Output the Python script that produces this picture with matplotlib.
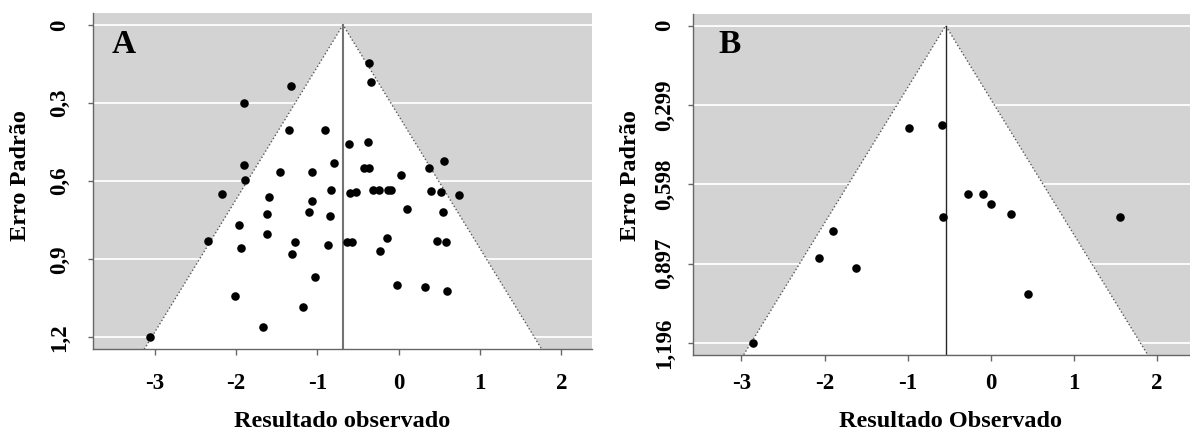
import matplotlib
matplotlib.use('Agg')
import matplotlib.pyplot as plt
from matplotlib.patches import Polygon

# Panel A: observed effects and their standard errors
eff_a = [-1.327, -1.904, -1.344, -0.909, -0.611, -1.904, -0.795, -1.454, -1.069, -1.892,
         -2.175, -1.590, -0.832, -1.069, -1.618, -1.098, -0.848, -1.962, -1.618, -2.347,
         -1.941, -1.270, -1.307, -0.865, -1.032, -2.015, -1.179, -1.667, -3.055, -0.365,
         -0.340, -0.381, -0.422, -0.365, 0.032, 0.376, 0.560, -0.602, -0.528, -0.316,
         -0.242, -0.131, -0.098, 0.397, 0.520, 0.737, 0.102, 0.548, -0.631, -0.574,
         -0.144, -0.226, 0.474, 0.577, -0.017, 0.319, 0.597]
se_a = [0.234, 0.301, 0.403, 0.405, 0.457, 0.538, 0.532, 0.565, 0.564, 0.597,
        0.648, 0.660, 0.635, 0.676, 0.727, 0.719, 0.734, 0.768, 0.802, 0.830,
        0.858, 0.835, 0.879, 0.844, 0.968, 1.041, 1.082, 1.159, 1.199, 0.147,
        0.219, 0.451, 0.551, 0.551, 0.576, 0.551, 0.524, 0.644, 0.642, 0.635,
        0.635, 0.633, 0.633, 0.638, 0.643, 0.652, 0.707, 0.720, 0.835, 0.833,
        0.817, 0.868, 0.829, 0.833, 1.000, 1.005, 1.022]
est_a = -0.684

# Panel B
eff_b = [-0.980, -0.582, -1.894, -2.063, -1.621, -2.857, -0.269, -0.093, 0.000,
         0.248, -0.570, 1.560, 0.452]
se_b = [0.387, 0.374, 0.773, 0.876, 0.912, 1.196, 0.636, 0.633, 0.671,
        0.709, 0.721, 0.722, 1.012]
est_b = -0.542

xticks = [-3, -2, -1, 0, 1, 2]
yticks_a = [0, 0.3, 0.6, 0.9, 1.2]
ylabels_a = ['0', '0,3', '0,6', '0,9', '1,2']
yticks_b = [0, 0.299, 0.598, 0.897, 1.196]
ylabels_b = ['0', '0,299', '0,598', '0,897', '1,196']

plt.rcParams['font.family'] = ['Liberation Serif', 'DejaVu Serif']
plt.rcParams['font.weight'] = 'bold'

fig = plt.figure(figsize=(11.9, 4.32), dpi=100)


def funnel(ax, eff, se, est, yt, yl, xlim, ylim, ref_color, ref_lw, xpad, ypad):
    ax.set_facecolor('#d3d3d3')
    ax.set_xlim(xlim)
    ax.set_ylim(ylim)
    se_max = ylim[0]
    for y in yt:
        ax.axhline(y, color='white', lw=1.3, zorder=0.5)
    lo, hi = est - 1.96 * se_max, est + 1.96 * se_max
    ax.add_patch(Polygon([(est, 0), (lo, se_max), (hi, se_max)], closed=True,
                         facecolor='white', edgecolor='none', zorder=1))
    ax.plot([lo, est, hi], [se_max, 0, se_max], ls=':', color='0.35', lw=1, zorder=2)
    ax.plot([est, est], [0, se_max], color=ref_color, lw=ref_lw, zorder=2)
    ax.scatter(eff, se, s=38, color='black', linewidths=0, zorder=3)
    for side in ['top', 'right']:
        ax.spines[side].set_visible(False)
    for side in ['left', 'bottom']:
        ax.spines[side].set_color('0.4')
        ax.spines[side].set_linewidth(1)
    ax.set_xticks(xticks, [str(t) for t in xticks])
    ax.set_yticks(yt, yl, rotation=90, va='center')
    ax.tick_params(axis='x', length=4.3, width=1, color='0.4', pad=xpad, labelsize=16.5)
    ax.tick_params(axis='y', length=3.6, width=1, color='0.4', pad=ypad, labelsize=16.5)


ax_a = fig.add_axes([0.0784, 0.1914, 0.4188, 0.7792])
funnel(ax_a, eff_a, se_a, est_a, yticks_a, ylabels_a, (-3.752, 2.371), (1.246, -0.047),
       '0.45', 1.5, 12.8, 12.8)

ax_b = fig.add_axes([0.5826, 0.1789, 0.4174, 0.7887])
funnel(ax_b, eff_b, se_b, est_b, yticks_b, ylabels_b, (-3.579, 2.398), (1.240, -0.044),
       '0.15', 1.0, 8.8, 9.2)

# axis titles and panel letters
fig.text(342.5 / 1190, 1 - 426.7 / 432, 'Resultado observado', ha='center', va='baseline',
         fontsize=17.5)
fig.text(950 / 1190, 1 - 426.7 / 432, 'Resultado Observado', ha='center', va='baseline',
         fontsize=17.5)
fig.text(21 / 1190, 1 - 176 / 432, 'Erro Padrão', rotation=90, ha='center', va='center',
         fontsize=17.5)
fig.text(630 / 1190, 1 - 176 / 432, 'Erro Padrão', rotation=90, ha='center', va='center',
         fontsize=17.5)
fig.text(124 / 1190, 1 - 52.7 / 432, 'A', ha='center', va='baseline', fontsize=24)
fig.text(730 / 1190, 1 - 52.7 / 432, 'B', ha='center', va='baseline', fontsize=24)

fig.savefig('out.png', dpi=100)
